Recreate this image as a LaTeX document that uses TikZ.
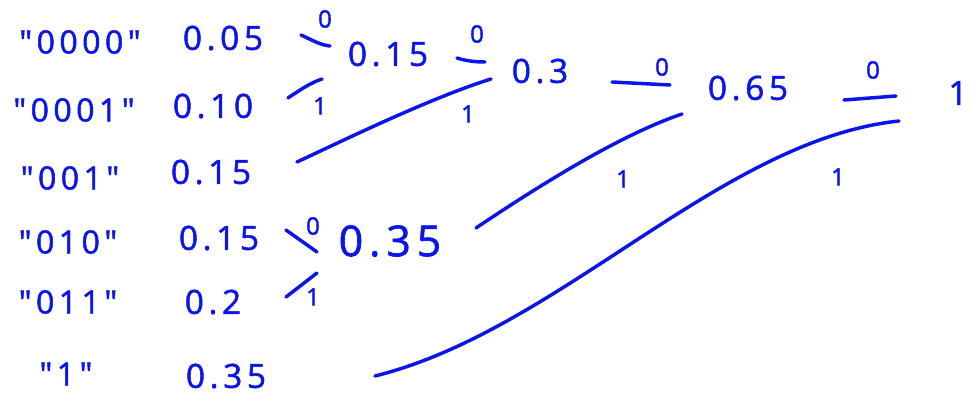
\documentclass[tikz,border=0pt]{standalone}
\usepackage{fontspec}
\setmainfont{Open Sans}
\newfontfamily\hand[LetterSpace=14,FakeBold=1.5]{Open Sans}
\definecolor{ink}{RGB}{10,20,235}
\begin{document}
\begin{tikzpicture}[x=0.75pt,y=-0.75pt,
  sym/.style={text=ink,font=\hand\fontsize{24}{24}\selectfont,inner sep=0pt},
  prob/.style={text=ink,font=\hand\fontsize{25}{25}\selectfont,inner sep=0pt},
  merge/.style={text=ink,font=\hand\fontsize{25}{25}\selectfont,inner sep=0pt},
  bit/.style={text=ink,font=\hand\fontsize{18}{18}\selectfont,inner sep=0pt},
  edge/.style={draw=ink,line width=2.6pt,line cap=round}]
\fill[white] (0,0) rectangle (974,395);
\useasboundingbox (0,0) rectangle (974,395);

% symbols
\node[sym] (s1) at (80,42) {"0000"};
\node[sym] (s2) at (74,110) {"0001"};
\node[sym] (s3) at (70,178) {"001"};
\node[sym] (s4) at (68,242) {"010"};
\node[sym] (s5) at (68,302) {"011"};
\node[sym] (s6) at (66,374) {"1"};

% probabilities
\node[prob] (p1) at (223,38) {0.05};
\node[prob] (p2) at (213,106) {0.10};
\node[prob] (p3) at (211,172) {0.15};
\node[prob] (p4) at (219,238) {0.15};
\node[prob] (p5) at (213,302) {0.2};
\node[prob] (p6) at (226,376) {0.35};

% merged nodes
\node[merge] (m1) at (388,54) {0.15};
\node[merge] (m2) at (540,71) {0.3};
\node[merge] (m3) at (748,88) {0.65};
\node[merge] (m4) at (958,93) {1};
\node[merge,font=\hand\fontsize{32}{32}\selectfont] (m5) at (390,241) {0.35};

% edge end points
\coordinate (a1) at (301,35);  \coordinate (b1) at (330,46);
\coordinate (a2) at (288,98);  \coordinate (b2) at (322,79);
\coordinate (a3) at (457,58);  \coordinate (b3) at (485,62);
\coordinate (a4) at (297,162); \coordinate (b4) at (491,79);
\coordinate (a5) at (612,82);  \coordinate (b5) at (670,85);
\coordinate (a6) at (476,228); \coordinate (b6) at (682,114);
\coordinate (a7) at (844,100); \coordinate (b7) at (896,96);
\coordinate (a8) at (375,376); \coordinate (b8) at (899,121);
\coordinate (a9) at (286,230); \coordinate (b9) at (317,252);
\coordinate (a10) at (286,297); \coordinate (b10) at (317,273);

\draw[edge] (a1) .. controls (312,40) and (320,45) .. (b1);
\draw[edge] (a2) .. controls (300,90) and (310,83) .. (b2);
\draw[edge] (a3) .. controls (466,61) and (476,62) .. (b3);
\draw[edge] (a4) .. controls (340,142) and (430,98) .. (b4);
\draw[edge] (a5) -- (b5);
\draw[edge] (a6) .. controls (540,185) and (620,135) .. (b6);
\draw[edge] (a7) -- (b7);
\draw[edge] (a8) .. controls (560,330) and (720,140) .. (b8);
\draw[edge] (a9) -- (b9);
\draw[edge] (a10) -- (b10);

% bit labels
\node[bit] (l1) at (325,19) {0};
\node[bit] (l2) at (320,106) {1};
\node[bit] (l3) at (477,34) {0};
\node[bit] (l4) at (468,114) {1};
\node[bit] (l5) at (662,67) {0};
\node[bit] (l6) at (623,179) {1};
\node[bit] (l7) at (873,70) {0};
\node[bit] (l8) at (838,177) {1};
\node[bit] (l9) at (313,226) {0};
\node[bit] (l10) at (313,297) {1};
\end{tikzpicture}
\end{document}
